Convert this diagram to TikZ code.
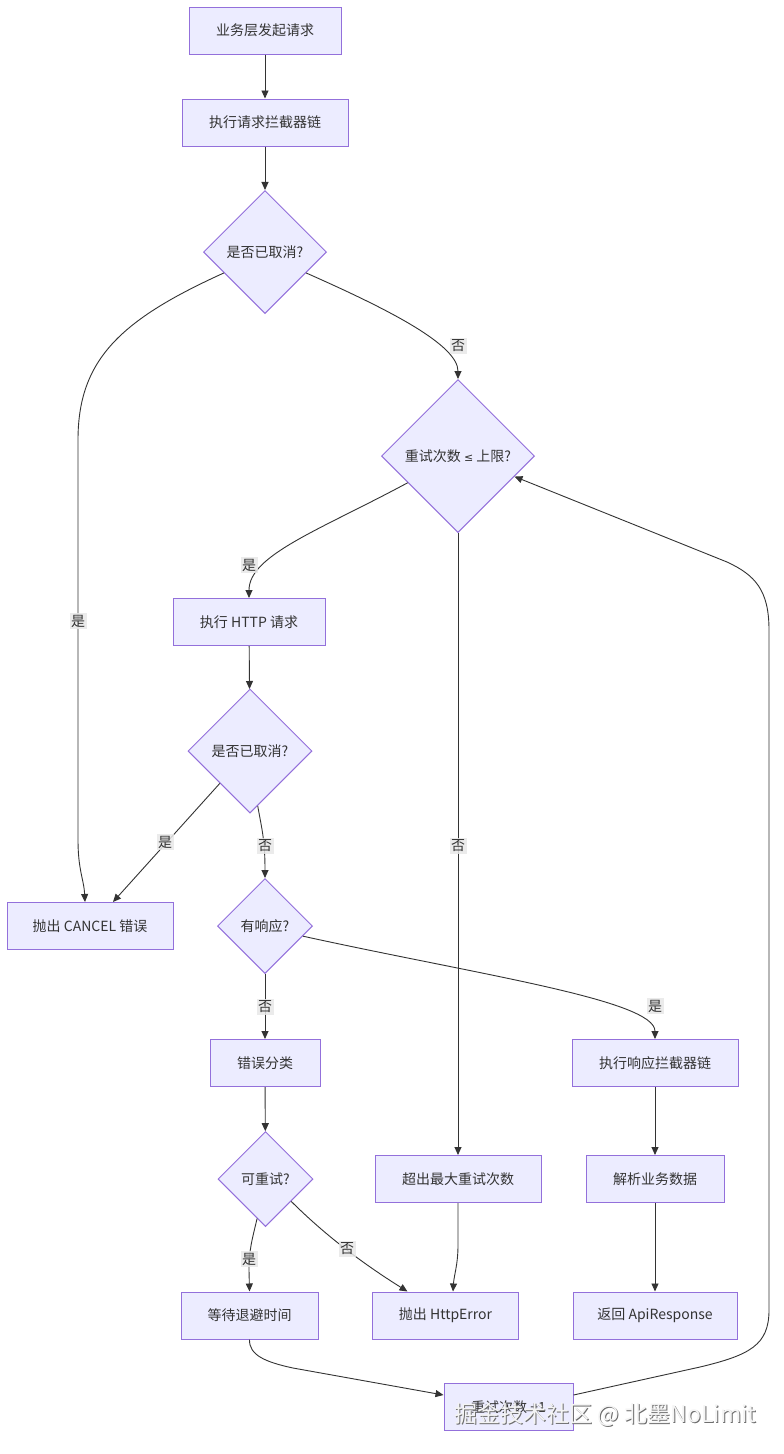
\documentclass[tikz,border=0pt]{standalone}
\usepackage{fontspec}
\setmainfont{Noto Sans CJK SC}
\newfontfamily\symfont{DejaVu Sans}
\usetikzlibrary{shapes.geometric,arrows.meta}
\definecolor{nodefill}{HTML}{ECECFF}
\definecolor{nodeborder}{HTML}{9370DB}
\definecolor{edgecol}{HTML}{333333}
\definecolor{lblbg}{HTML}{E8E8E8}
\definecolor{txt}{HTML}{333333}
\definecolor{wmshadow}{HTML}{6E6E6E}
\definecolor{wmfill}{HTML}{F4F4F4}
\begin{document}
\begin{tikzpicture}[x=1pt,y=-1pt,
  txtfont/.style={font=\fontsize{14pt}{16pt}\selectfont},
  box/.style={rectangle, draw=nodeborder, fill=nodefill, line width=1pt, minimum height=47pt, inner sep=0pt, text=txt, txtfont},
  dia/.style={diamond, draw=nodeborder, fill=nodefill, line width=1pt, inner sep=0pt, aspect=1, text=txt, txtfont},
  edge/.style={draw=edgecol, line width=0.9pt, -{Triangle[length=8pt,width=7pt]}},
  lbl/.style={fill=lblbg, fill opacity=0.85, text opacity=1, text=txt, inner sep=1.5pt, txtfont},
  wm/.style={font=\fontsize{23pt}{26pt}\selectfont, inner sep=0pt}
]
\useasboundingbox[fill=white] (0,0) rectangle (784,1454);

% nodes
\node[box, minimum width=152pt] (start) at (265,30.5) {业务层发起请求};
\node[box, minimum width=166pt] (reqint) at (265,122.5) {执行请求拦截器链};
\node[dia, minimum width=123pt, minimum height=123pt] (d1) at (265,252) {是否已取消?};
\node[dia, minimum width=153pt, minimum height=153pt] (d2) at (458,456) {重试次数 {\symfont\fontsize{11pt}{14pt}\selectfont ≤} 上限?};
\node[box, minimum width=152pt] (http) at (249,622) {执行 HTTP 请求};
\node[dia, minimum width=124pt, minimum height=124pt] (d3) at (250,751) {是否已取消?};
\node[box, minimum width=166pt] (cancel) at (90,926) {抛出 CANCEL 错误};
\node[dia, minimum width=95pt, minimum height=95pt] (d4) at (265,926) {有响应?};
\node[box, minimum width=110pt] (errcls) at (265,1063) {错误分类};
\node[box, minimum width=166pt] (respint) at (655,1063) {执行响应拦截器链};
\node[dia, minimum width=95pt, minimum height=95pt] (d5) at (265.5,1179) {可重试?};
\node[box, minimum width=166pt] (exceed) at (458,1179) {超出最大重试次数};
\node[box, minimum width=138pt] (parse) at (655,1179) {解析业务数据};
\node[box, minimum width=137pt] (wait) at (249.5,1315.5) {等待退避时间};
\node[box, minimum width=146pt] (httperr) at (445.5,1315.5) {抛出 HttpError};
\node[box, minimum width=164pt] (ret) at (655,1315.5) {返回 ApiResponse};
\node[box, minimum width=129pt] (retry) at (508.5,1407) {重试次数 +1};

% edges
\draw[edge] (start) -- (reqint);
\draw[edge] (reqint) -- (d1);
\draw[edge] (d1.207) .. controls (120,320) and (78,360) .. (78,440) -- (78,840) .. controls (78,870) and (84,880) .. ([xshift=-5pt]cancel.north);
\draw[edge] (d1.-27) .. controls (390,310) and (458,345) .. (d2.north);
\draw[edge] (d2.208) .. controls (320,530) and (249,555) .. (http.north);
\draw[edge] (d2.south) -- (exceed.north);
\draw[edge] (http) -- (d3);
\draw[edge] (d3.227) -- ([xshift=23pt]cancel.north);
\draw[edge] (d3.-82) .. controls (262,830) and (265,840) .. (d4.north);
\draw[edge] (d4.south) -- (errcls.north);
\draw[edge] (d4.-15) .. controls (480,975) and (655,1000) .. (respint.north);
\draw[edge] (errcls) -- (d5);
\draw[edge] (d5.258) .. controls (252,1240) and (249,1250) .. (249,1270) -- (wait.north);
\draw[edge] (d5.-41) .. controls (330,1240) and (370,1268) .. ([xshift=-38pt]httperr.north);
\draw[edge] (exceed.south) -- (458,1245) .. controls (458,1265) and (454,1275) .. ([xshift=7.5pt]httperr.north);
\draw[edge] (respint) -- (parse);
\draw[edge] (parse) -- (ret);
\draw[edge] (wait.south) .. controls (249,1355) and (265,1362) .. (293,1368) -- ([yshift=12pt]retry.west);
\draw[edge] ([yshift=12pt]retry.east) -- (700,1367) .. controls (750,1355) and (769,1345) .. (769,1310) -- (769,630) .. controls (769,590) and (755,575) .. (727,562) -- (d2.-20);

% edge labels
\node[lbl] (l1) at (78,621) {是};
\node[lbl] (l2) at (458,346) {否};
\node[lbl] (l3) at (249,565) {是};
\node[lbl] (l4) at (458,846) {否};
\node[lbl] (l5) at (165,842) {是};
\node[lbl] (l6) at (265,846) {否};
\node[lbl] (l7) at (265,1007) {否};
\node[lbl] (l8) at (655,1006) {是};
\node[lbl] (l9) at (249,1259) {是};
\node[lbl] (l10) at (347,1249) {否};

% watermark
\node[wm, text=wmshadow] (wms) at (606.5,1416) {掘金技术社区 @ 北墨NoLimit};
\node[wm, text=wmfill] (wmt) at (605.5,1415) {掘金技术社区 @ 北墨NoLimit};
\end{tikzpicture}
\end{document}
